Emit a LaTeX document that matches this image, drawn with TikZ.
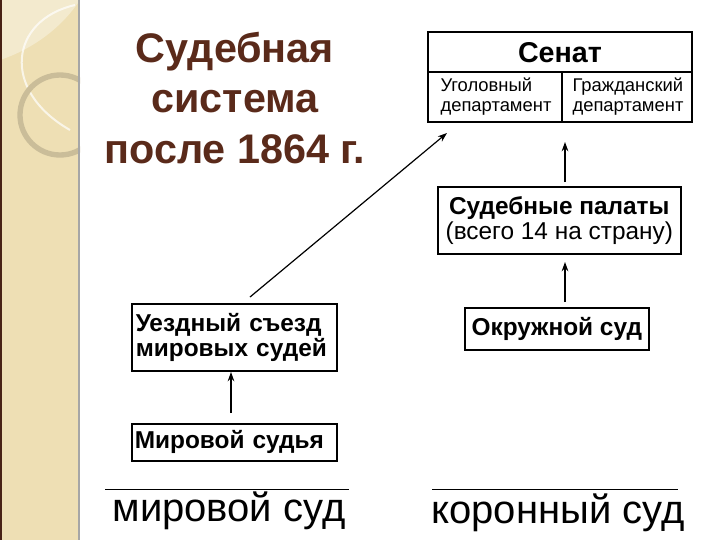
\documentclass[tikz,border=0pt]{standalone}
\usepackage{fontspec}
\setmainfont{Liberation Sans}
\usetikzlibrary{arrows.meta}
\definecolor{strip}{HTML}{EEDFB4}
\definecolor{ttl}{HTML}{5A2A1A}
\begin{document}
\begin{tikzpicture}[x=0.75pt,y=-0.75pt,
  box/.style={draw,line width=1.2pt,inner sep=0pt,anchor=north west},
  bf/.style={font=\bfseries\fontsize{18.3}{19}\selectfont},
  arr/.style={-{Stealth[length=7pt,width=5pt]},line width=0.9pt}]
\useasboundingbox (0,0) rectangle (720,540);
\fill[white] (0,0) rectangle (720,540);
\fill[strip] (0,0) rectangle (80,540);
\begin{scope}
\clip (0,0) rectangle (80,540);
\fill[white,opacity=0.35] (0,0) -- (0,60) .. controls (30,50) and (60,30) .. (80,0) -- cycle;
\draw[white,line width=1.5pt,opacity=0.7] (75,5) .. controls (10,20) and (0,90) .. (70,130);
\draw[black!15!strip,line width=4pt] (60,115) circle (40);
\end{scope}
\draw[ttl!80!black,line width=1.5pt] (1,0) -- (1,540);
\draw[gray!70,line width=0.8pt] (79,0) -- (79,540);
\node[ttl,font=\bfseries\fontsize{31}{38}\selectfont,align=center] (title) at (235,98) {Судебная\\система\\после 1864 г.};
% Senate
\draw[line width=1.2pt] (428,32) rectangle (692,122);
\draw[line width=0.8pt] (428,72) -- (692,72);
\draw[line width=0.8pt] (562,72) -- (562,122);
\node[font=\bfseries\fontsize{21.5}{24}\selectfont] (senat) at (560,53) {Сенат};
\node[font=\fontsize{13.8}{15}\selectfont,align=left] (ug) at (496,97) {Уголовный\\департамент};
\node[font=\fontsize{13.8}{15}\selectfont,align=left] (gr) at (628,97) {Гражданский\\департамент};
\coordinate (sbot) at (565,142);
\coordinate (ugt) at (447,133);
% boxes
\node[box,minimum width=243*0.75pt,minimum height=67*0.75pt,align=center,font=\fontsize{18.3}{19}\selectfont] (pal) at (437,186)
 {\textbf{Судебные палаты}\\(всего 14 на страну)};
\node[box,minimum width=184*0.75pt,minimum height=42*0.75pt,bf] (okr) at (464,307) {Окружной суд};
\node[box,minimum width=205*0.75pt,minimum height=67*0.75pt,align=left,text width=197*0.75pt,inner sep=3pt,bf] (uezd) at (131,303) {Уездный съезд\\мировых судей};
\node[box,minimum width=205*0.75pt,minimum height=37*0.75pt,align=left,text width=199*0.75pt,inner sep=2pt,bf] (mir) at (131,423) {Мировой судья};
\draw[arr] (565,182) -- (sbot);
\draw[arr] (565,302) -- (565,262);
\draw[arr] (231,413) -- (231,372);
\draw[arr] (250,297) -- (ugt);
% bottom
\draw[line width=0.6pt] (105,489) -- (349,489);
\draw[line width=0.6pt] (432,489) -- (678,489);
\node[font=\fontsize{30}{34}\selectfont] (ms) at (229,511) {мировой суд};
\node[font=\fontsize{30}{34}\selectfont] (ks) at (558,513) {коронный суд};
\end{tikzpicture}
\end{document}
